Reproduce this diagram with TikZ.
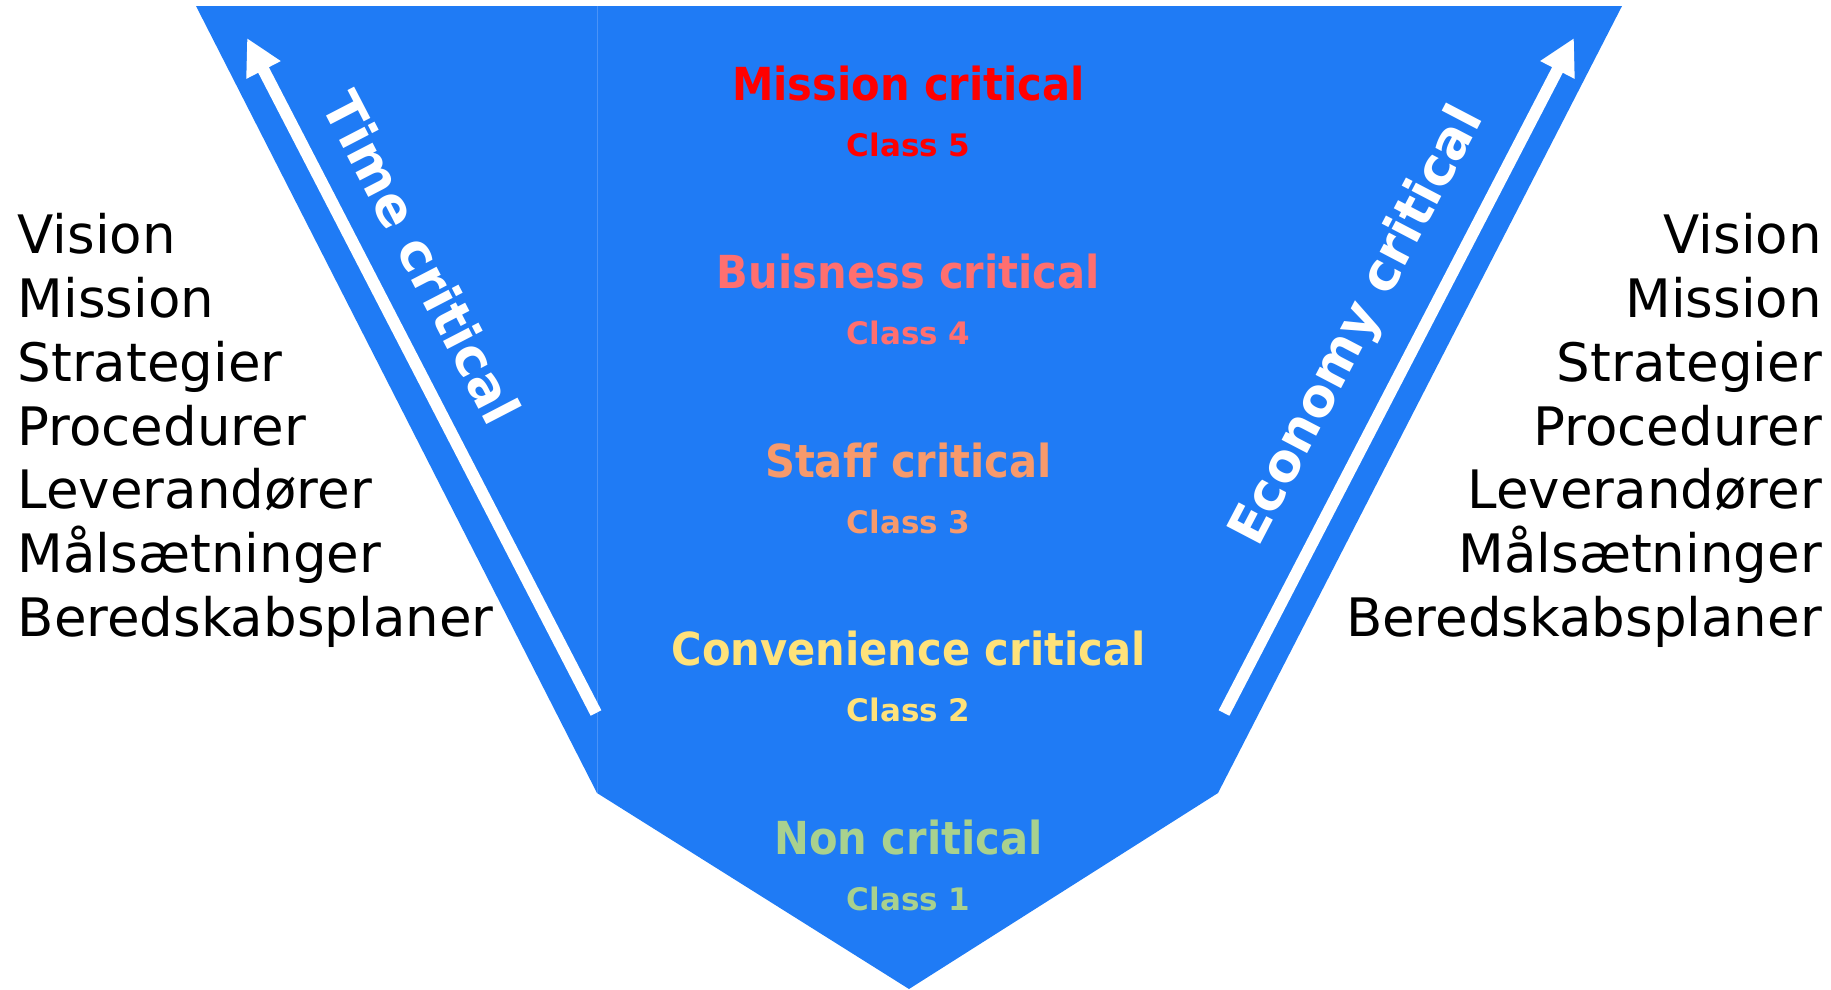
\documentclass[tikz,border=0pt]{standalone}
\usepackage{fontspec}
\setmainfont{DejaVu Sans}
\usetikzlibrary{arrows.meta}
\definecolor{vblue}{HTML}{1F7BF5}
\definecolor{seam}{HTML}{4A93F7}
\definecolor{cfive}{HTML}{FF0000}
\definecolor{cfour}{HTML}{FF6F6F}
\definecolor{cthree}{HTML}{F79A6C}
\definecolor{ctwo}{HTML}{FFE27A}
\definecolor{cone}{HTML}{A9D18E}
\newcommand{\narrowtxt}[1]{\scalebox{0.915}[1]{#1}}
\begin{document}
\begin{tikzpicture}[x=1pt,y=-1pt,
  listtext/.style={inner sep=0pt, font=\fontsize{53}{63}\selectfont},
  levtitle/.style={inner sep=0pt, anchor=base, font=\fontsize{45.5}{52}\selectfont\bfseries},
  levclass/.style={inner sep=0pt, anchor=base, font=\fontsize{31}{36}\selectfont\bfseries},
  sidelabel/.style={inner sep=0pt, text=white, font=\fontsize{52.5}{60}\selectfont\bfseries},
  bigarrow/.style={draw=white, line width=12pt, -{Triangle[length=36pt,width=36pt]}}]
\useasboundingbox (0,0) rectangle (1831,989);
% funnel shape
\fill[vblue] (196,6) -- (1622,6) -- (1218,793) -- (909,989) -- (597,793) -- cycle;
\draw[seam, line width=0.8pt] (597.5,6) -- (597.5,793);
% arrows
\coordinate (ltail) at (596,713);
\coordinate (lhead) at (247,38);
\coordinate (rtail) at (1224,713);
\coordinate (rhead) at (1574,38);
\draw[bigarrow] (ltail) -- (lhead);
\draw[bigarrow] (rtail) -- (rhead);
% side labels
\node[sidelabel, anchor=base east, rotate=-62.6] (timelbl) at (489,429) {Time critical};
\node[sidelabel, anchor=base west, rotate=62.4] (ecolbl) at (1258,549) {Economy critical};
% levels
\node[levtitle, text=cfive] (t5) at (908.5,100) {\narrowtxt{Mission critical}};
\node[levclass, text=cfive] (k5) at (908.5,156) {Class 5};
\node[levtitle, text=cfour] (t4) at (908.5,288.6) {\narrowtxt{Buisness critical}};
\node[levclass, text=cfour] (k4) at (908.5,344.6) {Class 4};
\node[levtitle, text=cthree] (t3) at (908.5,477.2) {\narrowtxt{Staff critical}};
\node[levclass, text=cthree] (k3) at (908.5,533.2) {Class 3};
\node[levtitle, text=ctwo] (t2) at (908.5,665.8) {\narrowtxt{Convenience critical}};
\node[levclass, text=ctwo] (k2) at (908.5,721.8) {Class 2};
\node[levtitle, text=cone] (t1) at (908.5,854.4) {\narrowtxt{Non critical}};
\node[levclass, text=cone] (k1) at (908.5,910.6) {Class 1};
% lists
\foreach \w [count=\i from 0] in {Vision,Mission,Strategier,Procedurer,Leverandører,Målsætninger,Beredskabsplaner}{
  \node[listtext, anchor=base west] (L\i) at (17.5,253.3+63.9*\i) {\w};
  \node[listtext, anchor=base east] (R\i) at (1822,253.3+63.9*\i) {\w};
}
\end{tikzpicture}
\end{document}
